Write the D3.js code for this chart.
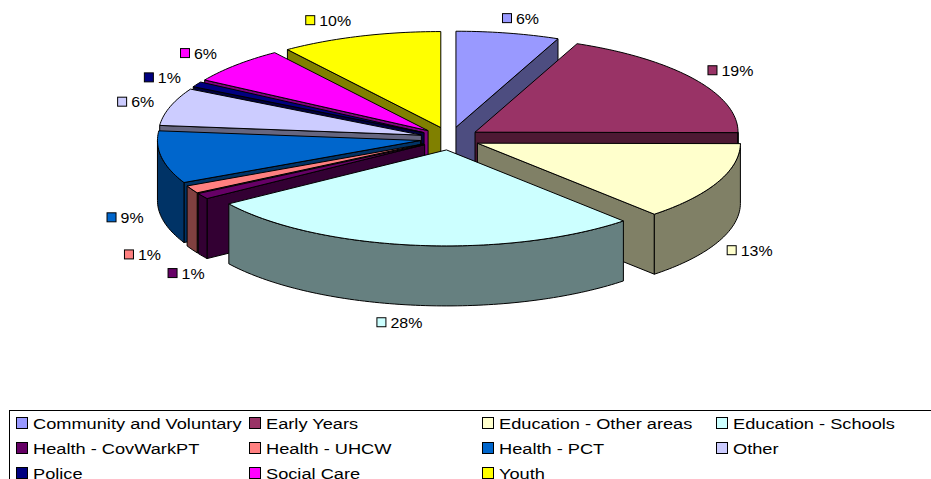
<!DOCTYPE html>
<html>
<head>
<meta charset="utf-8">
<script src="https://cdn.jsdelivr.net/npm/d3@7"></script>
<style>
  html, body { margin: 0; padding: 0; background: #fff; overflow: hidden; }
  text { font-family: "Liberation Sans", Arial, sans-serif; fill: #000; }
</style>
</head>
<body>
<svg id="chart" width="931" height="479"></svg>
<script>
// Chart data
var categories = ["Community and Voluntary", "Early Years", "Education - Other areas", "Education - Schools",
  "Health - CovWarkPT", "Health - UHCW", "Health - PCT", "Other", "Police", "Social Care", "Youth"];
var values = [6.4, 18.9, 13.3, 27.5, 1.0, 1.3, 8.9, 6.4, 0.9, 6.3, 10.0];
var topColors = ["#9999FF", "#993366", "#FFFFCC", "#CCFFFF", "#660066", "#FF8080", "#0066CC", "#CCCCFF", "#000080", "#FF00FF", "#FFFF00"];
var sideColors = ["#4D4D80", "#4D1933", "#808066", "#668080", "#330033", "#804040", "#003366", "#666680", "#000040", "#800080", "#808000"];

// Pie geometry
var cx = 450, cy = 138.5;
var rx = 263, ry = 96;
var depth = 60;
var explodeX = 30, explodeY = 11.5;

// Label offset from the slice rim, per slice
var labelNudge = [[-1, -15], [18, -9], [14, 8], [-34, 17], [-30, 17], [-63, 5], [-50, 0], [-48, -5], [-48, -7], [-51, -12], [-50, -16]];

var svg = d3.select("#chart");
var line = d3.line();

var pie = d3.pie().sort(null).value(function(d) { return d; });
var slices = pie(values);

function px(a, c) { return c[0] + rx * Math.sin(a); }
function py(a, c) { return c[1] - ry * Math.cos(a); }

function arcPoints(a0, a1, c, dy) {
  var n = Math.max(2, Math.ceil(Math.abs(a1 - a0) / 0.02));
  return d3.range(n + 1).map(function(i) {
    var a = a0 + (a1 - a0) * i / n;
    return [px(a, c), py(a, c) + dy];
  });
}

function drawPoly(pts, fill) {
  svg.append("path")
    .attr("d", line(pts) + "Z")
    .attr("fill", fill)
    .attr("stroke", "#000")
    .attr("stroke-width", 1)
    .attr("stroke-linejoin", "round");
}

// radial wall going down from the apex to the rim
function drawRadialWall(a, c, fill) {
  drawPoly([[c[0], c[1]], [px(a, c), py(a, c)], [px(a, c), py(a, c) + depth], [c[0], c[1] + depth]], fill);
}

slices.forEach(function(s, i) {
  s.index = i;
  s.mid = (s.startAngle + s.endAngle) / 2;
  s.center = [cx + explodeX * Math.sin(s.mid), cy - explodeY * Math.cos(s.mid)];
});

// back to front
var order = slices.slice().sort(function(a, b) { return Math.cos(b.mid) - Math.cos(a.mid); });

order.forEach(function(s) {
  var c = s.center;
  var side = sideColors[s.index];
  if (Math.sin(s.startAngle) < 0) drawRadialWall(s.startAngle, c, side);
  if (Math.sin(s.endAngle) > 0) drawRadialWall(s.endAngle, c, side);

  var a0 = Math.max(s.startAngle, Math.PI / 2);
  var a1 = Math.min(s.endAngle, Math.PI * 1.5);
  if (a1 > a0) {
    drawPoly(arcPoints(a0, a1, c, 0).concat(arcPoints(a1, a0, c, depth)), side);
  }
  drawPoly([c].concat(arcPoints(s.startAngle, s.endAngle, c, 0)), topColors[s.index]);
});

// Data labels
slices.forEach(function(s, i) {
  var wall = Math.cos(s.mid) < 0 ? depth : 0;
  var lx = px(s.mid, s.center) + labelNudge[i][0];
  var ly = py(s.mid, s.center) + wall + labelNudge[i][1];
  svg.append("rect")
    .attr("x", lx - 4.5).attr("y", ly - 4.5)
    .attr("width", 9).attr("height", 9)
    .attr("fill", topColors[i]).attr("stroke", "#000");
  svg.append("text")
    .attr("transform", "translate(" + (lx + 9) + "," + (ly + 5.5) + ") scale(1.14,1)")
    .attr("font-size", 14)
    .text(Math.round(values[i]) + "%");
});

// Legend
var legendCols = [16, 249, 482, 716];
var legendRows = [423, 448, 473];

svg.append("rect")
  .attr("x", 9.5).attr("y", 410.5)
  .attr("width", 930).attr("height", 80)
  .attr("fill", "#fff").attr("stroke", "#000");

categories.forEach(function(name, i) {
  var x = legendCols[i % 4], y = legendRows[Math.floor(i / 4)];
  svg.append("rect")
    .attr("x", x + 0.5).attr("y", y - 5.5)
    .attr("width", 11).attr("height", 11)
    .attr("fill", topColors[i]).attr("stroke", "#000");
  svg.append("text")
    .attr("transform", "translate(" + (x + 17) + "," + (y + 5.5) + ") scale(1.175,1)")
    .attr("font-size", 15.5)
    .text(name);
});
</script>
</body>
</html>
